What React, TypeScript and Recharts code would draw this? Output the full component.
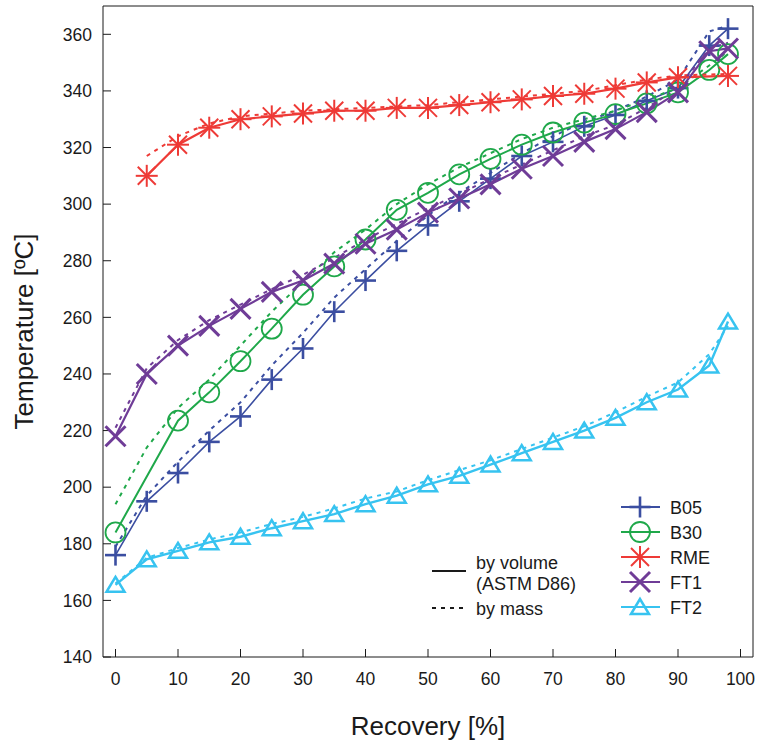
import { ComposedChart, Line, XAxis, YAxis, Legend } from 'recharts';

// recovery points (%), last point is the final boiling point reading
const recovery = [0, 5, 10, 15, 20, 25, 30, 35, 40, 45, 50, 55, 60, 65, 70, 75, 80, 85, 90, 95, 98];

// temperatures by volume (ASTM D86) and by mass, °C
const b05Vol = [176, 195, 205, 216, 225, 238, 249, 262, 273, 283.5, 292.5, 301, 309, 317, 322, 327.5, 331.5, 336.5, 341, 356, 362];
const b05Mass = [179, 197, 209, 220, 230, 243, 254.5, 267, 277, 287, 296, 304, 311, 318, 324, 329, 333, 338, 344, 361, 363];
const b30Vol = [184, null, 223.5, 233.5, 244.5, 256, 268, 278, 287.5, 298, 304, 310.5, 316, 321, 325.3, 328.8, 331.8, 335.6, 339.5, 347.4, 353];
const b30Mass = [194, 214, 228, 238, 250, 262, 272.5, 283, 291, 300, 307, 313, 318, 323, 327, 330, 333, 337, 341, 349, 354];
const rmeVol = [null, 310, 321, 327, 330, 331, 332, 333, 333, 334, 334, 335, 336, 337, 338.2, 339, 340.8, 343, 344.8, null, 345.3];
const rmeMass = [null, 317, 324, 328.5, 331, 332, 333, 333.5, 334, 334.5, 335, 336, 337, 338, 339, 340, 342, 344, 345.5, null, 346];
const ft1Vol = [218, 240, 250, 257, 263, 269, 273, 279, 286, 291, 297, 302, 307, 312.5, 317, 322, 326.5, 332.5, 339.5, 354, 355];
const ft1Mass = [221, 242, 252, 259, 264.5, 270, 275, 281, 287.5, 293, 298.5, 303.5, 309, 314, 319, 324, 328, 334, 341, 355, 357];
const ft2Vol = [165.5, 174.5, 177.5, 180.5, 182.5, 185.5, 188, 190.5, 194, 197, 201, 204, 208, 212, 216, 220, 224.5, 230, 234.5, 243, 258.5];
const ft2Mass = [166, 175, 178.5, 181.5, 184, 187, 189.5, 192.5, 196, 198.5, 202.5, 206, 209.5, 213.5, 217.5, 221.5, 226.5, 232, 237, 247, 257];

const xTicks = [0, 10, 20, 30, 40, 50, 60, 70, 80, 90, 100];
const yTicks = [140, 160, 180, 200, 220, 240, 260, 280, 300, 320, 340, 360];

const font = '"Liberation Sans", Arial, Helvetica, sans-serif';
const ink = '#1a1a1a';

type Shape = 'plus' | 'circle' | 'asterisk' | 'cross' | 'triangle';

const series = [
    { key: 'b05', name: 'B05', color: '#3b4ea1', shape: 'plus' as Shape, vol: b05Vol, mass: b05Mass, width: 1.6 },
    { key: 'b30', name: 'B30', color: '#1fa84a', shape: 'circle' as Shape, vol: b30Vol, mass: b30Mass, width: 2 },
    { key: 'rme', name: 'RME', color: '#ee3a36', shape: 'asterisk' as Shape, vol: rmeVol, mass: rmeMass, width: 2.2 },
    { key: 'ft1', name: 'FT1', color: '#6f3c97', shape: 'cross' as Shape, vol: ft1Vol, mass: ft1Mass, width: 2.2 },
    { key: 'ft2', name: 'FT2', color: '#37c3f0', shape: 'triangle' as Shape, vol: ft2Vol, mass: ft2Mass, width: 2.4 },
];

const rows = recovery.map((x, i) => {
    const row: Record<string, number | null> = { x };
    series.forEach((s) => {
        row[s.key] = s.vol[i];
        row[s.key + 'Mass'] = s.mass[i];
    });
    return row;
});

const Marker = ({ cx, cy, shape, color }: { cx: number; cy: number; shape: Shape; color: string }) => {
    if (cx == null || cy == null || isNaN(cx) || isNaN(cy)) return null;
    switch (shape) {
        case 'plus':
            return (
                <g stroke={color} strokeWidth={2.6}>
                    <line x1={cx - 10.5} y1={cy} x2={cx + 10.5} y2={cy} />
                    <line x1={cx} y1={cy - 10.5} x2={cx} y2={cy + 10.5} />
                </g>
            );
        case 'circle':
            return <circle cx={cx} cy={cy} r={10} fill="none" stroke={color} strokeWidth={1.8} />;
        case 'asterisk':
            return (
                <g stroke={color} strokeWidth={2}>
                    <line x1={cx - 11} y1={cy} x2={cx + 11} y2={cy} />
                    <line x1={cx} y1={cy - 11} x2={cx} y2={cy + 11} />
                    <line x1={cx - 9} y1={cy - 9} x2={cx + 9} y2={cy + 9} />
                    <line x1={cx - 9} y1={cy + 9} x2={cx + 9} y2={cy - 9} />
                </g>
            );
        case 'cross':
            return (
                <g stroke={color} strokeWidth={3}>
                    <line x1={cx - 10} y1={cy - 10} x2={cx + 10} y2={cy + 10} />
                    <line x1={cx - 10} y1={cy + 10} x2={cx + 10} y2={cy - 10} />
                </g>
            );
        default:
            return (
                <polygon
                    points={`${cx},${cy - 8} ${cx - 9},${cy + 7} ${cx + 9},${cy + 7}`}
                    fill="none"
                    stroke={color}
                    strokeWidth={2.5}
                    strokeLinejoin="miter"
                />
            );
    }
};

// legend keeps the series order (B05, B30, RME, FT1, FT2)
const LegendBox = ({ payload }: any) => {
    const shown = new Set((payload || []).map((p: any) => p.dataKey));
    const items = series.filter((s) => shown.has(s.key));
    return (
        <svg width={330} height={135} style={{ display: 'block', fontFamily: font }}>
            <line x1={7} y1={81} x2={41} y2={81} stroke={ink} strokeWidth={2} />
            <text x={51} y={78.5} fontSize={18} fill={ink}>by volume</text>
            <text x={51} y={99.5} fontSize={18} fill={ink}>(ASTM D86)</text>
            <line x1={7} y1={118} x2={41} y2={118} stroke={ink} strokeWidth={2} strokeDasharray="4 5" />
            <text x={51} y={124.5} fontSize={18} fill={ink}>by mass</text>
            {items.map((s, i) => {
                const y = 17 + i * 25;
                return (
                    <g key={s.key}>
                        <line x1={196} y1={y} x2={235} y2={y} stroke={s.color} strokeWidth={2} />
                        <Marker cx={215} cy={y} shape={s.shape} color={s.color} />
                        <text x={245} y={y + 6.5} fontSize={18} fill={ink}>{s.name}</text>
                    </g>
                );
            })}
        </svg>
    );
};

const YTitle = ({ viewBox }: any) => {
    const cy = viewBox.y + viewBox.height / 2;
    return (
        <text
            x={24}
            y={cy}
            transform={`rotate(-90, 24, ${cy})`}
            textAnchor="middle"
            dominantBaseline="central"
            fontSize={26}
            fontFamily={font}
            fill={ink}
        >
            Temperature [ºC]
        </text>
    );
};

export default function App() {
    const tickStyle = { fontSize: 17.5, fill: ink, fontFamily: font };
    return (
        <div style={{ position: 'absolute', left: 0, top: 0, width: 758, height: 743, background: '#fff' }}>
            <ComposedChart width={758} height={743} data={rows} margin={{ top: 0, right: 0, bottom: 0, left: 0 }}>
                <XAxis
                    dataKey="x"
                    type="number"
                    domain={[-2, 102]}
                    ticks={xTicks}
                    allowDataOverflow
                    height={86}
                    stroke={ink}
                    tickSize={-8}
                    tickMargin={24}
                    tick={tickStyle}
                    label={{ value: 'Recovery [%]', position: 'insideBottom', offset: 8, fontSize: 26, fill: ink, fontFamily: font }}
                />
                <XAxis
                    xAxisId="top"
                    orientation="top"
                    type="number"
                    domain={[-2, 102]}
                    ticks={xTicks}
                    allowDataOverflow
                    height={6}
                    stroke={ink}
                    tickSize={-8}
                    tick={false}
                />
                <YAxis
                    type="number"
                    domain={[140, 370]}
                    ticks={yTicks}
                    allowDataOverflow
                    width={103}
                    stroke={ink}
                    tickSize={-8}
                    tickMargin={19}
                    tick={tickStyle}
                    label={<YTitle />}
                />
                <YAxis
                    yAxisId="r"
                    orientation="right"
                    type="number"
                    domain={[140, 370]}
                    ticks={yTicks}
                    allowDataOverflow
                    width={5}
                    stroke={ink}
                    tickSize={-8}
                    tick={false}
                />
                {series.map((s) => [
                    <Line
                        key={s.key + 'Mass'}
                        dataKey={s.key + 'Mass'}
                        stroke={s.color}
                        strokeWidth={2}
                        strokeDasharray="4 5"
                        dot={false}
                        activeDot={false}
                        connectNulls
                        legendType="none"
                        isAnimationActive={false}
                    />,
                    <Line
                        key={s.key}
                        dataKey={s.key}
                        name={s.name}
                        stroke={s.color}
                        strokeWidth={s.width}
                        dot={(p: any) => (
                            <g key={`${s.key}-${p.index}`}>
                                <Marker cx={p.cx} cy={p.cy} shape={s.shape} color={s.color} />
                            </g>
                        )}
                        activeDot={false}
                        connectNulls
                        isAnimationActive={false}
                    />,
                ])}
                <Legend
                    layout="vertical"
                    align="center"
                    verticalAlign="middle"
                    content={<LegendBox />}
                    wrapperStyle={{ position: 'absolute', left: 425, top: 490, width: 330, height: 135 }}
                />
            </ComposedChart>
        </div>
    );
}
